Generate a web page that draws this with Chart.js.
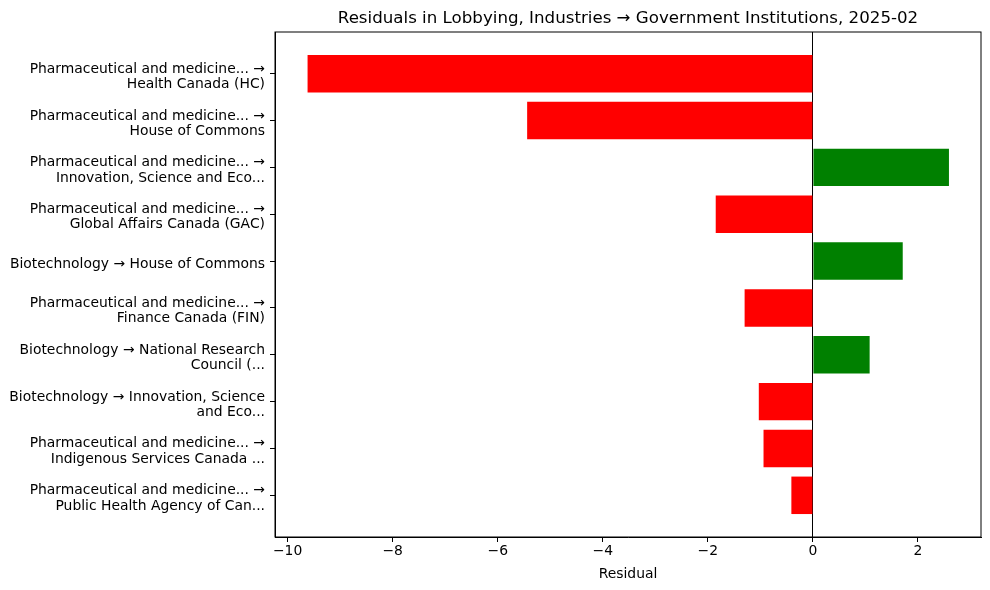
<!DOCTYPE html>
<html>
<head>
<meta charset="utf-8">
<script src="https://cdn.jsdelivr.net/npm/chart.js@4.4.1/dist/chart.umd.min.js"></script>
<style>
  html, body { margin:0; padding:0; background:#fff; }
  #wrap { width:990px; height:590px; }
</style>
</head>
<body>
<div id="wrap"><canvas id="chart" width="990" height="590"></canvas></div>
<script>
// Datos
const categories = [
  ['Pharmaceutical and medicine... →', 'Health Canada (HC)'],
  ['Pharmaceutical and medicine... →', 'House of Commons'],
  ['Pharmaceutical and medicine... →', 'Innovation, Science and Eco...'],
  ['Pharmaceutical and medicine... →', 'Global Affairs Canada (GAC)'],
  'Biotechnology → House of Commons',
  ['Pharmaceutical and medicine... →', 'Finance Canada (FIN)'],
  ['Biotechnology → National Research', 'Council (...'],
  ['Biotechnology → Innovation, Science', 'and Eco...'],
  ['Pharmaceutical and medicine... →', 'Indigenous Services Canada ...'],
  ['Pharmaceutical and medicine... →', 'Public Health Agency of Can...'],
];
const residuals = [-9.62, -5.44, 2.59, -1.85, 1.71, -1.30, 1.08, -1.03, -0.94, -0.41];
const xTicks    = [-10, -8, -6, -4, -2, 0, 2];

const titleText = 'Residuals in Lobbying, Industries → Government Institutions, 2025-02';
const FONT = '"DejaVu Sans", sans-serif';

// Título centrado sobre el área del gráfico + marco completo
const frame = {
  id: 'frame',
  afterDraw(chart) {
    const { ctx, chartArea: a } = chart;
    ctx.save();
    ctx.strokeStyle = '#000';
    ctx.lineWidth = 1;
    ctx.strokeRect(a.left, a.top, a.right - a.left, a.bottom - a.top);
    ctx.fillStyle = '#000';
    ctx.font = `16.67px ${FONT}`;
    ctx.textAlign = 'center';
    ctx.textBaseline = 'alphabetic';
    ctx.fillText(titleText, (a.left + a.right) / 2, 23.3);
    ctx.restore();
  }
};

new Chart(document.getElementById('chart'), {
  type: 'bar',
  data: {
    datasets: [{
      data: residuals.map((v, i) => ({ x: v, y: i })),
      backgroundColor: residuals.map(v => v >= 0 ? '#008000' : '#ff0000'),
      borderWidth: 0,
      categoryPercentage: 1,
      barPercentage: 0.8,
    }]
  },
  options: {
    indexAxis: 'y',
    responsive: false,
    animation: false,
    devicePixelRatio: 1,
    layout: { padding: { left: 0, right: 9, top: 32, bottom: 0 } },
    plugins: { legend: { display: false }, tooltip: { enabled: false }, title: { display: false } },
    scales: {
      y: {
        type: 'linear',
        reverse: true,
        offset: false,
        min: -0.89,
        max: 9.89,
        afterFit: s => { s.width = 275; },
        afterBuildTicks: s => { s.ticks = categories.map((_, i) => ({ value: i })); },
        grid: { offset: false, drawOnChartArea: false, drawTicks: true, tickLength: 5, tickColor: '#000', tickWidth: 1 },
        border: { display: true, color: '#000', width: 1 },
        ticks: {
          autoSkip: false,
          padding: 5,
          labelOffset: 3,
          color: '#000',
          font: { family: FONT, size: 13.9, lineHeight: 1.1 },
          callback: v => categories[v],
        }
      },
      x: {
        type: 'linear',
        min: -10.24,
        max: 3.2,
        afterFit: s => { s.height = 53; },
        afterBuildTicks: s => { s.ticks = xTicks.map(v => ({ value: v })); },
        grid: {
          drawOnChartArea: true,
          drawTicks: true,
          tickLength: 5,
          tickColor: '#000',
          color: c => (c.tick && c.tick.value === 0) ? '#000' : 'rgba(0,0,0,0)',
          lineWidth: 1,
        },
        border: { display: true, color: '#000', width: 1 },
        ticks: {
          autoSkip: false,
          maxRotation: 0,
          padding: 1,
          color: '#000',
          font: { family: FONT, size: 13.9 },
          callback: v => v < 0 ? '−' + Math.abs(v) : String(v),
        },
        title: {
          display: true,
          text: 'Residual',
          color: '#000',
          font: { family: FONT, size: 13.9 },
          padding: { top: 0, bottom: 7 },
        }
      }
    }
  },
  plugins: [frame]
});
</script>
</body>
</html>
